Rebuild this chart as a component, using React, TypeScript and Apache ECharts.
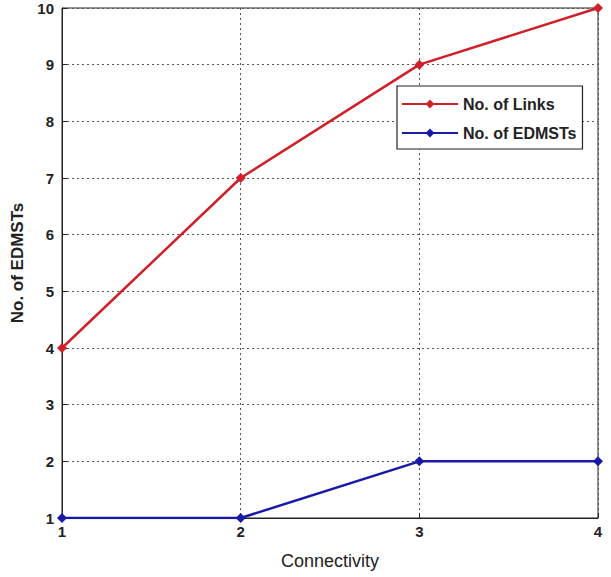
import React, { useEffect, useRef } from "react";
import * as echarts from "echarts";

const connectivity = [1, 2, 3, 4];
const links = [4, 7, 9, 10];
const edmsts = [1, 1, 2, 2];
const seriesNames = ["No. of Links", "No. of EDMSTs"];

const FONT = "'Liberation Sans Narrow', 'Liberation Sans', Arial, sans-serif";

export default function App() {
  const ref = useRef<HTMLDivElement>(null);
  useEffect(() => {
    if (!ref.current) return;
    const chart = echarts.init(ref.current, null, { renderer: "svg" });
    const toPairs = (ys: number[]) => connectivity.map((x, i) => [x, ys[i]]);
    chart.setOption({
      animation: false,
      backgroundColor: "#fff",
      grid: {
        left: 62,
        right: 13,
        top: 8,
        bottom: 59,
        show: true,
        borderColor: "#222",
        borderWidth: 1,
      },
      legend: {
        orient: "vertical",
        left: 397,
        top: 86,
        itemWidth: 56,
        itemHeight: 11,
        itemGap: 13,
        padding: [10, 6, 8, 4],
        borderColor: "#222",
        borderWidth: 1.2,
        backgroundColor: "#fff",
        textStyle: { fontFamily: FONT, fontSize: 16, color: "#222", fontWeight: "bold" },
        data: seriesNames,
      },
      xAxis: {
        type: "value",
        min: 1,
        max: 4,
        interval: 1,
        name: "Connectivity",
        nameLocation: "middle",
        nameGap: 34,
        nameTextStyle: { fontFamily: FONT, fontSize: 18, color: "#222" },
        axisLine: { lineStyle: { color: "#222" } },
        axisTick: { inside: true, length: 5, lineStyle: { color: "#222" } },
        axisLabel: { fontFamily: FONT, fontSize: 15, color: "#222", fontWeight: "bold", margin: 6 },
        splitLine: { show: true, lineStyle: { type: [2, 3], color: "#555" } },
      },
      yAxis: {
        type: "value",
        min: 1,
        max: 10,
        interval: 1,
        name: "No. of EDMSTs",
        nameLocation: "middle",
        nameGap: 34,
        nameTextStyle: { fontFamily: "'Liberation Sans', Arial, sans-serif", fontSize: 17, color: "#222", fontWeight: "bold" },
        axisLine: { show: true, lineStyle: { color: "#222" } },
        axisTick: { show: true, inside: true, length: 5, lineStyle: { color: "#222" } },
        axisLabel: { fontFamily: FONT, fontSize: 15, color: "#222", fontWeight: "bold", margin: 8 },
        splitLine: { show: true, lineStyle: { type: [2, 3], color: "#555" } },
      },
      series: [
        {
          name: seriesNames[0],
          type: "line",
          data: toPairs(links),
          color: "#d0202a",
          lineStyle: { width: 2.5, color: "#d0202a" },
          symbol: "diamond",
          symbolSize: 10,
          itemStyle: { color: "#d0202a" },
        },
        {
          name: seriesNames[1],
          type: "line",
          data: toPairs(edmsts),
          color: "#1a1aa8",
          lineStyle: { width: 2.5, color: "#1a1aa8" },
          symbol: "diamond",
          symbolSize: 10,
          itemStyle: { color: "#1a1aa8" },
        },
      ],
    });
    return () => chart.dispose();
  }, []);
  return <div ref={ref} style={{ width: 611, height: 577, position: "absolute", left: 0, top: 0 }} />;
}
